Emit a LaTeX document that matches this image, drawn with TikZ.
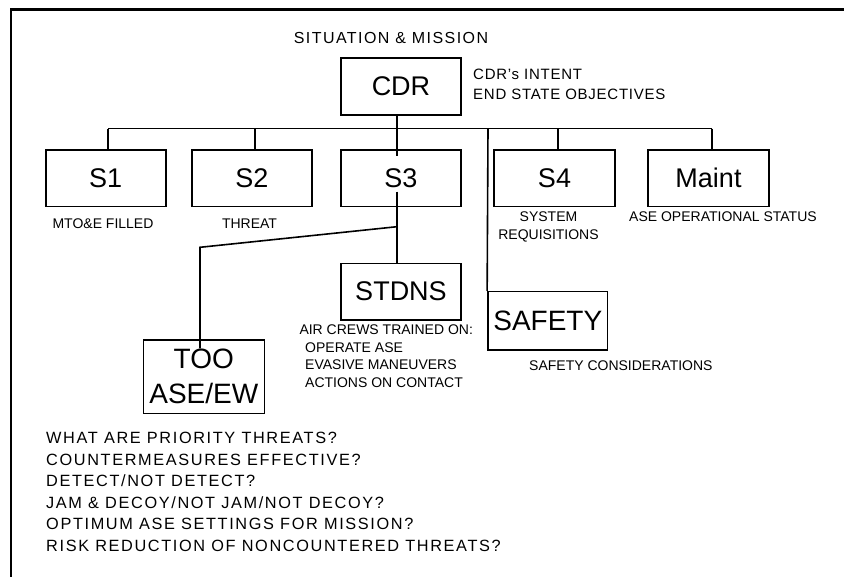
\documentclass[tikz,border=0pt]{standalone}
\usepackage{fontspec}
\setmainfont{Liberation Sans}
\newfontfamily\titlefam[LetterSpace=9]{Liberation Sans}
\newfontfamily\notefam[LetterSpace=5]{Liberation Sans}
\newfontfamily\askfam[LetterSpace=10]{Liberation Sans}

\begin{document}
\begin{tikzpicture}[x=1pt,y=-1pt,
  box/.style={draw, line width=1.6pt, inner sep=0pt, minimum width=120pt,
    minimum height=56.7pt, font=\fontsize{27}{30}\selectfont},
  link/.style={line width=1.6pt},
  frame/.style={line width=2.6pt},
  note/.style={inner sep=0pt, font=\fontsize{14}{17}\selectfont},
  intent/.style={inner sep=0pt, anchor=base west, font=\notefam\fontsize{15}{18}\selectfont},
  ask/.style={inner sep=0pt, anchor=base west, font=\askfam\fontsize{16.3}{20}\selectfont}
]
\useasboundingbox (0,0) rectangle (844,577);

% page frame: top and left rules
\draw[frame] (11,580) -- (11,9.3) -- (848,9.3);

% command and staff boxes
\node[box] (cdr)   at (401,86.5)    {CDR};
\node[box] (s1)    at (105.7,178.3) {S1};
\node[box] (s2)    at (252,178.3)   {S2};
\node[box] (s3)    at (401,178.3)   {S3};
\node[box, minimum width=121pt] (s4) at (554.5,178.3) {S4};
\node[box, minimum width=121pt] (maint) at (708.5,178.3) {Maint};
\node[box] (stdns) at (401,291.7)   {STDNS};
\node[box, minimum width=119.7pt, minimum height=58.3pt,
      font=\fontsize{28}{30}\selectfont] (safety) at (547.8,320.8) {SAFETY};
\node[box, minimum width=121pt, minimum height=73.3pt, align=center,
      font=\fontsize{28}{35}\selectfont] (too) at (203.8,376.7) {TOO\\ASE/EW};

% bus and drop points
\coordinate (busL)  at (108,128.7);
\coordinate (d2)    at (255,128.7);
\coordinate (stem)  at (397,128.7);
\coordinate (dsafe) at (488,128.7);
\coordinate (d4)    at (557.7,128.7);
\coordinate (busR)  at (711.7,128.7);
\coordinate (stemEnd) at (397,156);
\coordinate (s3out) at (397,191.7);
\coordinate (fork)  at (397,226.7);
\coordinate (bend)  at (200,247.3);
\coordinate (tooIn) at (200,348.3);

\draw[link] (busL) -- (busR);
\draw[link] (stem |- cdr.south) -- (stemEnd);
\draw[link] (busL) -- (busL |- s1.north);
\draw[link] (d2) -- (d2 |- s2.north);
\draw[link] (d4) -- (d4 |- s4.north);
\draw[link] (busR) -- (busR |- maint.north);
\draw[link] (dsafe) -- (safety.north west);
\draw[link] (s3out) -- (s3out |- stdns.north);
\draw[link] (fork) -- (bend) -- (tooIn);

% headings and notes
\node[inner sep=0pt, anchor=base, font=\titlefam\fontsize{16}{18}\selectfont]
  (sit) at (391,44) {SITUATION \& MISSION};
\node[intent] (int1) at (473,80)  {CDR’s INTENT};
\node[intent] (int2) at (473,100) {END STATE OBJECTIVES};

\node[note, anchor=base] (n1)  at (103,229)     {MTO\&E FILLED};
\node[note, anchor=base] (n2)  at (249.5,229)   {THREAT};
\node[note, anchor=base] (n4a) at (548.5,222)   {SYSTEM};
\node[note, anchor=base] (n4b) at (548.5,239.3) {REQUISITIONS};
\node[note, anchor=base west] (nm) at (629,222) {ASE OPERATIONAL STATUS};
\node[note, anchor=base west] (ns) at (529,370.7) {SAFETY CONSIDERATIONS};

\node[note, anchor=base west] (t1) at (299.3,335)   {AIR CREWS TRAINED ON:};
\node[note, anchor=base west] (t2) at (305,352.3)   {OPERATE ASE};
\node[note, anchor=base west] (t3) at (305,370)     {EVASIVE MANEUVERS};
\node[note, anchor=base west] (t4) at (305,387.7)   {ACTIONS ON CONTACT};

\node[ask] (q1) at (46,443.5) {WHAT ARE PRIORITY THREATS?};
\node[ask] (q2) at (46,465)   {COUNTERMEASURES EFFECTIVE?};
\node[ask] (q3) at (46,486.5) {DETECT/NOT DETECT?};
\node[ask] (q4) at (46,508)   {JAM \& DECOY/NOT JAM/NOT DECOY?};
\node[ask] (q5) at (46,529.5) {OPTIMUM ASE SETTINGS FOR MISSION?};
\node[ask] (q6) at (46,551)   {RISK REDUCTION OF NONCOUNTERED THREATS?};
\end{tikzpicture}
\end{document}
